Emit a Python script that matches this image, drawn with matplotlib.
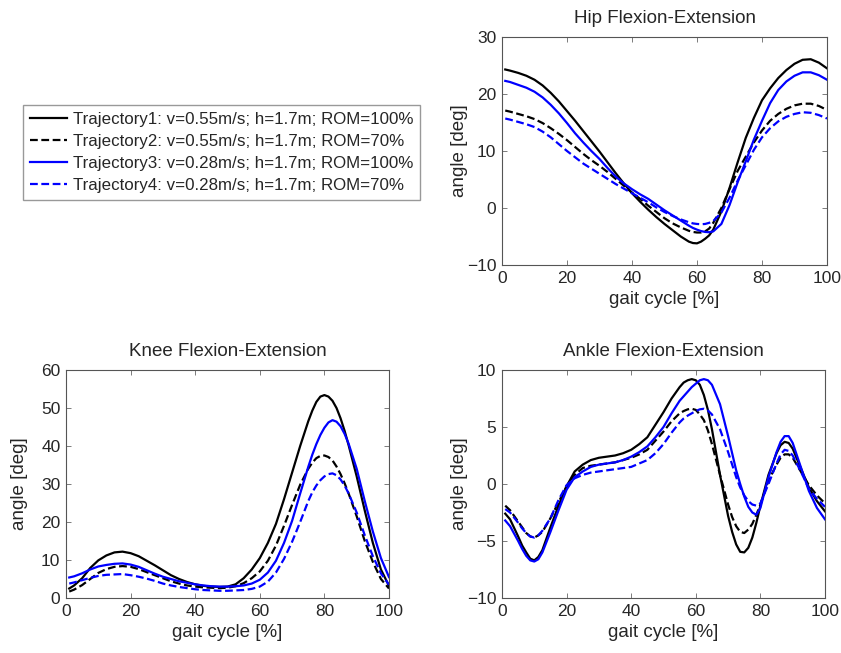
import numpy as np
import matplotlib
matplotlib.use("Agg")
import matplotlib.pyplot as plt

plt.rcParams['font.family'] = ['Liberation Sans', 'DejaVu Sans']

labels = ["Trajectory1: v=0.55m/s; h=1.7m; ROM=100%",
          "Trajectory2: v=0.55m/s; h=1.7m; ROM=70%",
          "Trajectory3: v=0.28m/s; h=1.7m; ROM=100%",
          "Trajectory4: v=0.28m/s; h=1.7m; ROM=70%"]

# ---------------- Hip ----------------
hip_gait = [1, 2.5, 5, 7.5, 10, 12.5, 15, 17.5, 20, 22.5, 25, 27.5, 30, 32.5, 35, 37.5,
            40, 42.5, 45, 47.5, 50, 52.5, 55, 57.5, 58.75, 60, 61.25, 62.5, 63.75, 65,
            67.5, 70, 72.5, 75, 77.5, 80, 82.5, 85, 87.5, 90, 92.5, 95, 97.5, 100]
hip_t1 = [24.3, 24.1, 23.7, 23.2, 22.5, 21.5, 20.2, 18.7, 17.0, 15.3, 13.5, 11.7, 9.9, 8.0, 6.1, 4.3,
          2.6, 1.1, -0.3, -1.6, -2.8, -3.9, -5.0, -5.9, -6.15, -6.2, -5.9, -5.4, -4.8, -3.8,
          -0.6, 3.5, 8.0, 12.3, 15.8, 18.9, 21.0, 22.8, 24.2, 25.3, 26.0, 26.1, 25.5, 24.5]
hip_t2 = [17.1, 16.9, 16.5, 16.1, 15.6, 14.9, 14.0, 13.0, 11.9, 10.7, 9.5, 8.4, 7.4, 6.3, 5.1, 3.9,
          2.7, 1.6, 0.4, -0.7, -1.8, -2.7, -3.4, -4.0, -4.2, -4.3, -4.3, -4.1, -3.6, -2.6,
          0.0, 3.3, 6.5, 9.0, 11.5, 13.6, 15.3, 16.5, 17.4, 18.0, 18.3, 18.3, 17.9, 17.2]
hip_t3 = [22.3, 22.1, 21.6, 21.1, 20.4, 19.4, 18.1, 16.6, 14.9, 13.1, 11.5, 10.0, 8.6, 7.0, 5.5, 4.3,
          3.3, 2.4, 1.6, 0.6, -0.4, -1.3, -2.2, -3.1, -3.5, -3.8, -4.05, -4.2, -4.25, -4.1,
          -2.8, 0.5, 4.5, 8.2, 12.0, 15.3, 18.4, 20.7, 22.2, 23.2, 23.8, 23.8, 23.3, 22.5]
hip_t4 = [15.7, 15.5, 15.1, 14.7, 14.2, 13.4, 12.4, 11.2, 10.0, 8.9, 7.8, 6.9, 6.0, 5.1, 4.2, 3.4,
          2.6, 1.8, 1.0, 0.1, -0.7, -1.4, -2.0, -2.5, -2.7, -2.8, -2.85, -2.8, -2.6, -2.3,
          -0.8, 1.8, 4.8, 7.5, 10.2, 12.4, 14.0, 15.2, 16.0, 16.5, 16.8, 16.7, 16.3, 15.7]

# ---------------- Knee ----------------
knee_gait = [1, 2.5, 5, 7.5, 10, 12.5, 15, 17.5, 20, 22.5, 25, 27.5, 30, 32.5, 35, 37.5,
             40, 42.5, 45, 47.5, 50, 52.5, 55, 57.5, 60, 62.5, 65, 67.5, 70, 72.5,
             75, 76.25, 77.5, 78.75, 80, 81.25, 82.5, 83.75, 85, 86.25, 87.5,
             90, 92.5, 95, 97.5, 100]
knee_t1 = [2.5, 3.3, 5.2, 7.9, 9.9, 11.2, 12.0, 12.2, 11.8, 11.0, 9.8, 8.6, 7.3, 6.0, 5.0, 4.2,
           3.6, 3.2, 3.0, 2.9, 3.0, 3.6, 5.2, 7.5, 10.5, 14.5, 19.5, 26.0, 33.0, 40.0,
           46.5, 49.3, 51.6, 53.0, 53.4, 53.0, 51.9, 50.0, 47.3, 44.0, 40.2,
           32.0, 23.0, 14.5, 7.5, 3.2]
knee_t2 = [1.7, 2.2, 3.4, 5.0, 6.6, 7.6, 8.2, 8.4, 8.2, 7.6, 6.8, 6.0, 5.2, 4.4, 3.8, 3.3,
           3.0, 2.8, 2.7, 2.6, 2.7, 3.1, 3.9, 5.2, 7.0, 9.8, 13.8, 19.0, 24.5, 29.8,
           34.0, 35.6, 36.8, 37.4, 37.5, 37.1, 36.2, 34.6, 32.6, 30.2, 27.5,
           21.5, 15.0, 9.5, 5.0, 2.5]
knee_t3 = [5.4, 5.7, 6.5, 7.5, 8.3, 8.7, 9.0, 9.1, 8.8, 8.2, 7.3, 6.4, 5.6, 5.0, 4.4, 4.0,
           3.6, 3.3, 3.1, 3.0, 3.0, 3.1, 3.3, 3.8, 4.8, 6.7, 9.8, 14.5, 20.3, 27.5,
           34.5, 37.7, 40.5, 42.9, 44.8, 46.2, 46.8, 46.4, 45.2, 43.2, 40.6,
           34.0, 25.5, 17.5, 10.5, 5.5]
knee_t4 = [3.8, 4.1, 4.7, 5.3, 5.8, 6.1, 6.2, 6.3, 6.0, 5.6, 5.1, 4.5, 3.8, 3.3, 2.9, 2.6,
           2.3, 2.1, 2.0, 1.9, 1.9, 2.0, 2.1, 2.4, 3.0, 4.3, 6.7, 10.3, 14.8, 20.0,
           25.5, 27.8, 29.6, 31.0, 32.0, 32.6, 32.8, 32.3, 31.2, 29.6, 27.5,
           22.5, 16.5, 11.0, 6.5, 3.5]

# ---------------- Ankle ----------------
ankle_gait = [1, 2.5, 5, 6.25, 7.5, 8.75, 10, 11.25, 12.5,
              15, 17.5, 20, 22.5, 25, 27.5, 30, 32.5, 35, 37.5, 40, 42.5, 45, 47.5, 50, 52.5, 55,
              56.25, 57.5, 58.75, 60, 61.25, 62.5, 63.75, 65,
              67.5, 70, 71.25, 72.5, 73.75, 75, 76.25, 77.5, 78.75, 80,
              82.5, 85, 86.25, 87.5, 88.75, 90,
              92.5, 95, 97.5, 100]
ankle_t1 = [-2.6, -3.1, -4.6, -5.4, -6.0, -6.55, -6.7, -6.4, -5.8,
            -3.8, -1.9, -0.2, 1.1, 1.7, 2.1, 2.3, 2.4, 2.5, 2.7, 3.0, 3.5, 4.1, 5.2, 6.3, 7.5, 8.5,
            8.9, 9.1, 9.2, 9.1, 8.7, 7.8, 6.5, 4.8,
            0.8, -2.8, -4.2, -5.3, -5.95, -6.0, -5.6, -4.7, -3.4, -1.9,
            0.8, 2.7, 3.4, 3.7, 3.6, 3.1,
            1.4, -0.3, -1.5, -2.4]
ankle_t2 = [-1.9, -2.3, -3.3, -3.8, -4.3, -4.6, -4.7, -4.5, -4.2,
            -3.0, -1.6, -0.2, 0.8, 1.4, 1.6, 1.7, 1.8, 1.9, 2.1, 2.3, 2.6, 3.0, 3.8, 4.6, 5.5, 6.2,
            6.4, 6.55, 6.6, 6.5, 6.1, 5.6, 4.7, 3.5,
            0.8, -1.8, -2.9, -3.7, -4.2, -4.3, -4.0, -3.5, -2.7, -1.8,
            0.3, 1.7, 2.3, 2.6, 2.6, 2.3,
            1.1, -0.1, -1.0, -1.7]
ankle_t3 = [-3.2, -3.7, -5.0, -5.7, -6.3, -6.7, -6.8, -6.6, -6.0,
            -4.2, -2.3, -0.5, 0.6, 1.1, 1.5, 1.7, 1.8, 1.9, 2.1, 2.4, 2.8, 3.3, 4.1, 5.0, 6.2, 7.3,
            7.7, 8.1, 8.5, 8.8, 9.1, 9.2, 9.1, 8.7,
            7.0, 4.2, 2.7, 1.2, 0.0, -1.1, -2.0, -2.5, -2.7, -2.1,
            0.6, 2.8, 3.7, 4.2, 4.2, 3.6,
            1.5, -0.6, -2.1, -3.1]
ankle_t4 = [-2.2, -2.5, -3.4, -3.9, -4.3, -4.6, -4.7, -4.5, -4.1,
            -3.0, -1.4, -0.1, 0.5, 0.8, 1.0, 1.1, 1.2, 1.3, 1.4, 1.5, 1.8, 2.1, 2.7, 3.5, 4.5, 5.4,
            5.75, 6.0, 6.2, 6.4, 6.55, 6.6, 6.45, 6.1,
            4.8, 2.8, 1.7, 0.6, -0.3, -1.0, -1.5, -1.8, -1.9, -1.7,
            0.0, 1.8, 2.6, 3.0, 2.9, 2.5,
            1.1, -0.4, -1.3, -2.0]

TXT = '#262626'
W, H = 841, 653
fig = plt.figure(figsize=(W / 100, H / 100), dpi=100)

def make_ax(x0, y0, x1, y1):
    return fig.add_axes([x0 / W, 1 - y1 / H, (x1 - x0) / W, (y1 - y0) / H])

styles = [dict(color='black', ls='-'), dict(color='black', ls=(0, (3.5, 1.6))),
          dict(color='#0000ff', ls='-'), dict(color='#0000ff', ls=(0, (3.5, 1.6)))]

def draw(ax, x, series, title, ylim, yticks, ylab_x):
    handles = []
    for s, st, lab in zip(series, styles, labels):
        h, = ax.plot(x, s, lw=1.6, color=st['color'], linestyle=st['ls'], label=lab,
                     solid_joinstyle='round', dash_joinstyle='round')
        handles.append(h)
    ax.set_xlim(0, 100)
    ax.set_ylim(*ylim)
    ax.set_xticks([0, 20, 40, 60, 80, 100])
    ax.set_yticks(yticks)
    ax.tick_params(direction='in', top=True, right=True, length=3.5, width=0.6,
                   color='#666666', labelsize=12.5, labelcolor=TXT, pad=4)
    for sp in ax.spines.values():
        sp.set_color('#555555')
        sp.set_linewidth(0.8)
    ax.set_title(title, fontsize=13.5, color=TXT, pad=10)
    ax.set_xlabel('gait cycle [%]', fontsize=13.5, color=TXT, labelpad=4)
    ax.set_ylabel('angle [deg]', fontsize=13.5, color=TXT)
    ax.yaxis.set_label_coords(ylab_x, 0.5)
    return handles

ax_hip = make_ax(502, 37, 827, 265)
ax_knee = make_ax(66, 370, 389, 598)
ax_ank = make_ax(502, 370, 825, 598)

hs = draw(ax_hip, hip_gait, [hip_t1, hip_t2, hip_t3, hip_t4], 'Hip Flexion-Extension',
          (-10, 30), [-10, 0, 10, 20, 30], -0.105)
draw(ax_knee, knee_gait, [knee_t1, knee_t2, knee_t3, knee_t4], 'Knee Flexion-Extension',
     (0, 60), [0, 10, 20, 30, 40, 50, 60], -0.118)
draw(ax_ank, ankle_gait, [ankle_t1, ankle_t2, ankle_t3, ankle_t4], 'Ankle Flexion-Extension',
     (-10, 10), [-10, -5, 0, 5, 10], -0.105)

leg = fig.legend(handles=hs, labels=labels, loc='upper left',
                 bbox_to_anchor=(23 / W, 1 - 105 / H), borderaxespad=0,
                 fontsize=12.2, frameon=True, fancybox=False, handlelength=2.2,
                 handletextpad=0.35, labelspacing=0.42, borderpad=0.4)
leg.get_frame().set_edgecolor('#808080')
leg.get_frame().set_linewidth(1.0)
for t in leg.get_texts():
    t.set_color(TXT)

fig.savefig('out.png', dpi=100)
